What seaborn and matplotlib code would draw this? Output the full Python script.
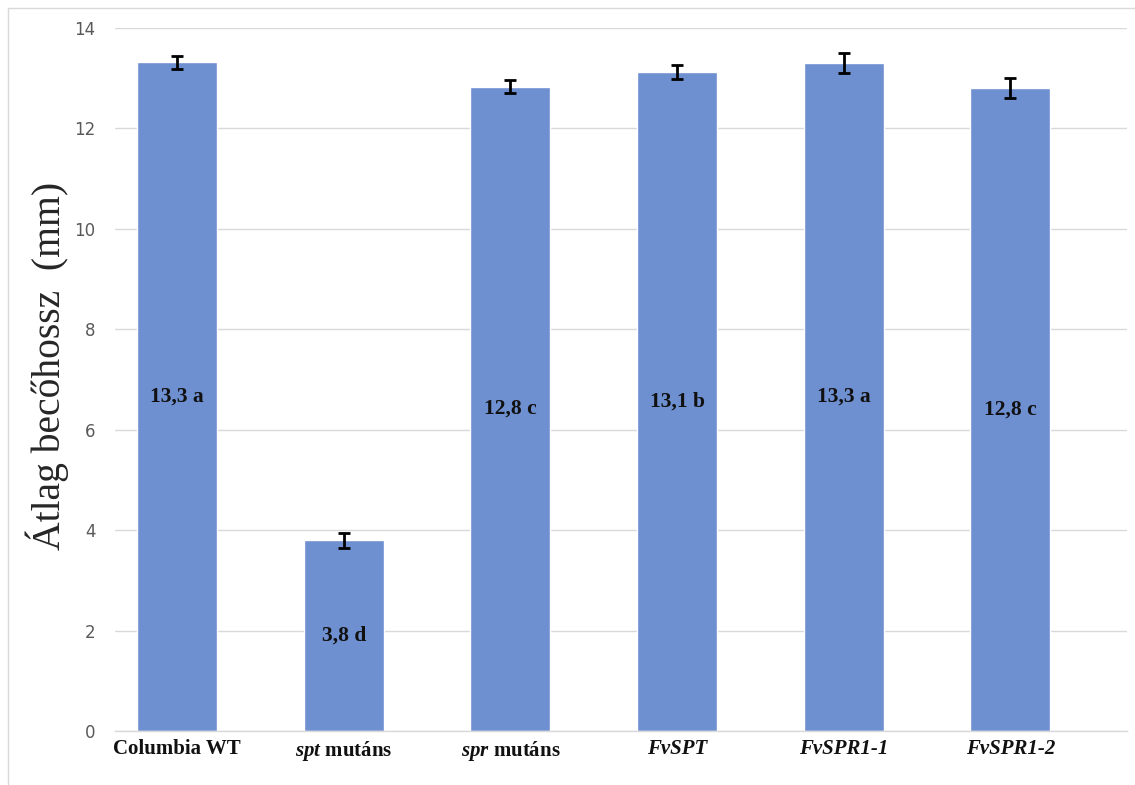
import seaborn as sns
import matplotlib.pyplot as plt
import matplotlib.patches as patches
import pandas as pd

# data
categories = ["Columbia WT", "spt mutáns", "spr mutáns", "FvSPT", "FvSPR1-1", "FvSPR1-2"]
tick_labels = ["Columbia WT", r"$\mathbfit{spt}$ mutáns", r"$\mathbfit{spr}$ mutáns",
               "FvSPT", "FvSPR1-1", "FvSPR1-2"]
italic_labels = [False, False, False, True, True, True]
means = [13.32, 3.80, 12.83, 13.13, 13.30, 12.80]
errors = [0.13, 0.15, 0.13, 0.14, 0.20, 0.20]
bar_texts = ["13,3 a", "3,8 d", "12,8 c", "13,1 b", "13,3 a", "12,8 c"]

sns.set_style("white")
plt.rcParams["mathtext.fontset"] = "custom"
plt.rcParams["mathtext.bfit"] = "Liberation Serif:italic:bold"
plt.rcParams["mathtext.rm"] = "Liberation Serif:bold"

df = pd.DataFrame({"group": categories, "length": means})

fig = plt.figure(figsize=(11.35, 7.85), dpi=100)
ax = fig.add_axes([0.1013, 0.0688, 0.8917, 0.8955])

sns.barplot(data=df, x="group", y="length", color="#6E8FD0", saturation=1,
            width=0.48, ax=ax, zorder=2)
ax.errorbar(range(len(categories)), means, yerr=errors, fmt="none",
            ecolor="black", elinewidth=2, capsize=4, capthick=2, zorder=3)

for i, (m, t) in enumerate(zip(means, bar_texts)):
    ax.text(i, m / 2, t, ha="center", va="center", fontsize=15.5,
            fontweight="bold", family="Liberation Serif", color="#111111", zorder=4)

ax.set_ylim(0, 14)
ax.set_xlim(-0.373, 5.70)
ax.set_yticks(range(0, 15, 2))
ax.yaxis.grid(True, color="#D9D9D9", linewidth=1)
ax.set_axisbelow(True)
for s in ["top", "right", "left"]:
    ax.spines[s].set_visible(False)
ax.spines["bottom"].set_color("#D9D9D9")
ax.spines["bottom"].set_linewidth(1)

ax.set_xticks(range(len(categories)))
ax.set_xticklabels(tick_labels)
for lab, it in zip(ax.get_xticklabels(), italic_labels):
    lab.set_family("Liberation Serif")
    lab.set_fontweight("bold")
    lab.set_fontsize(15)
    lab.set_color("#111111")
    if it:
        lab.set_fontstyle("italic")
ax.tick_params(axis="x", length=0, pad=6)
ax.tick_params(axis="y", length=0, pad=14, labelsize=12, labelcolor="#595959")

ax.set_xlabel("")
ax.set_ylabel("Átlag becőhossz  (mm)", family="Liberation Serif", fontsize=28.5)
ax.yaxis.set_label_coords(-0.045, 0.52)

# outer chart border
fig.patches.append(patches.Rectangle((8 / 1135, -0.1), 1.2, 1 - 8 / 785 + 0.1,
                                     transform=fig.transFigure, fill=False,
                                     edgecolor="#D9D9D9", linewidth=1))

fig.savefig("out.png", dpi=100)
plt.close(fig)
